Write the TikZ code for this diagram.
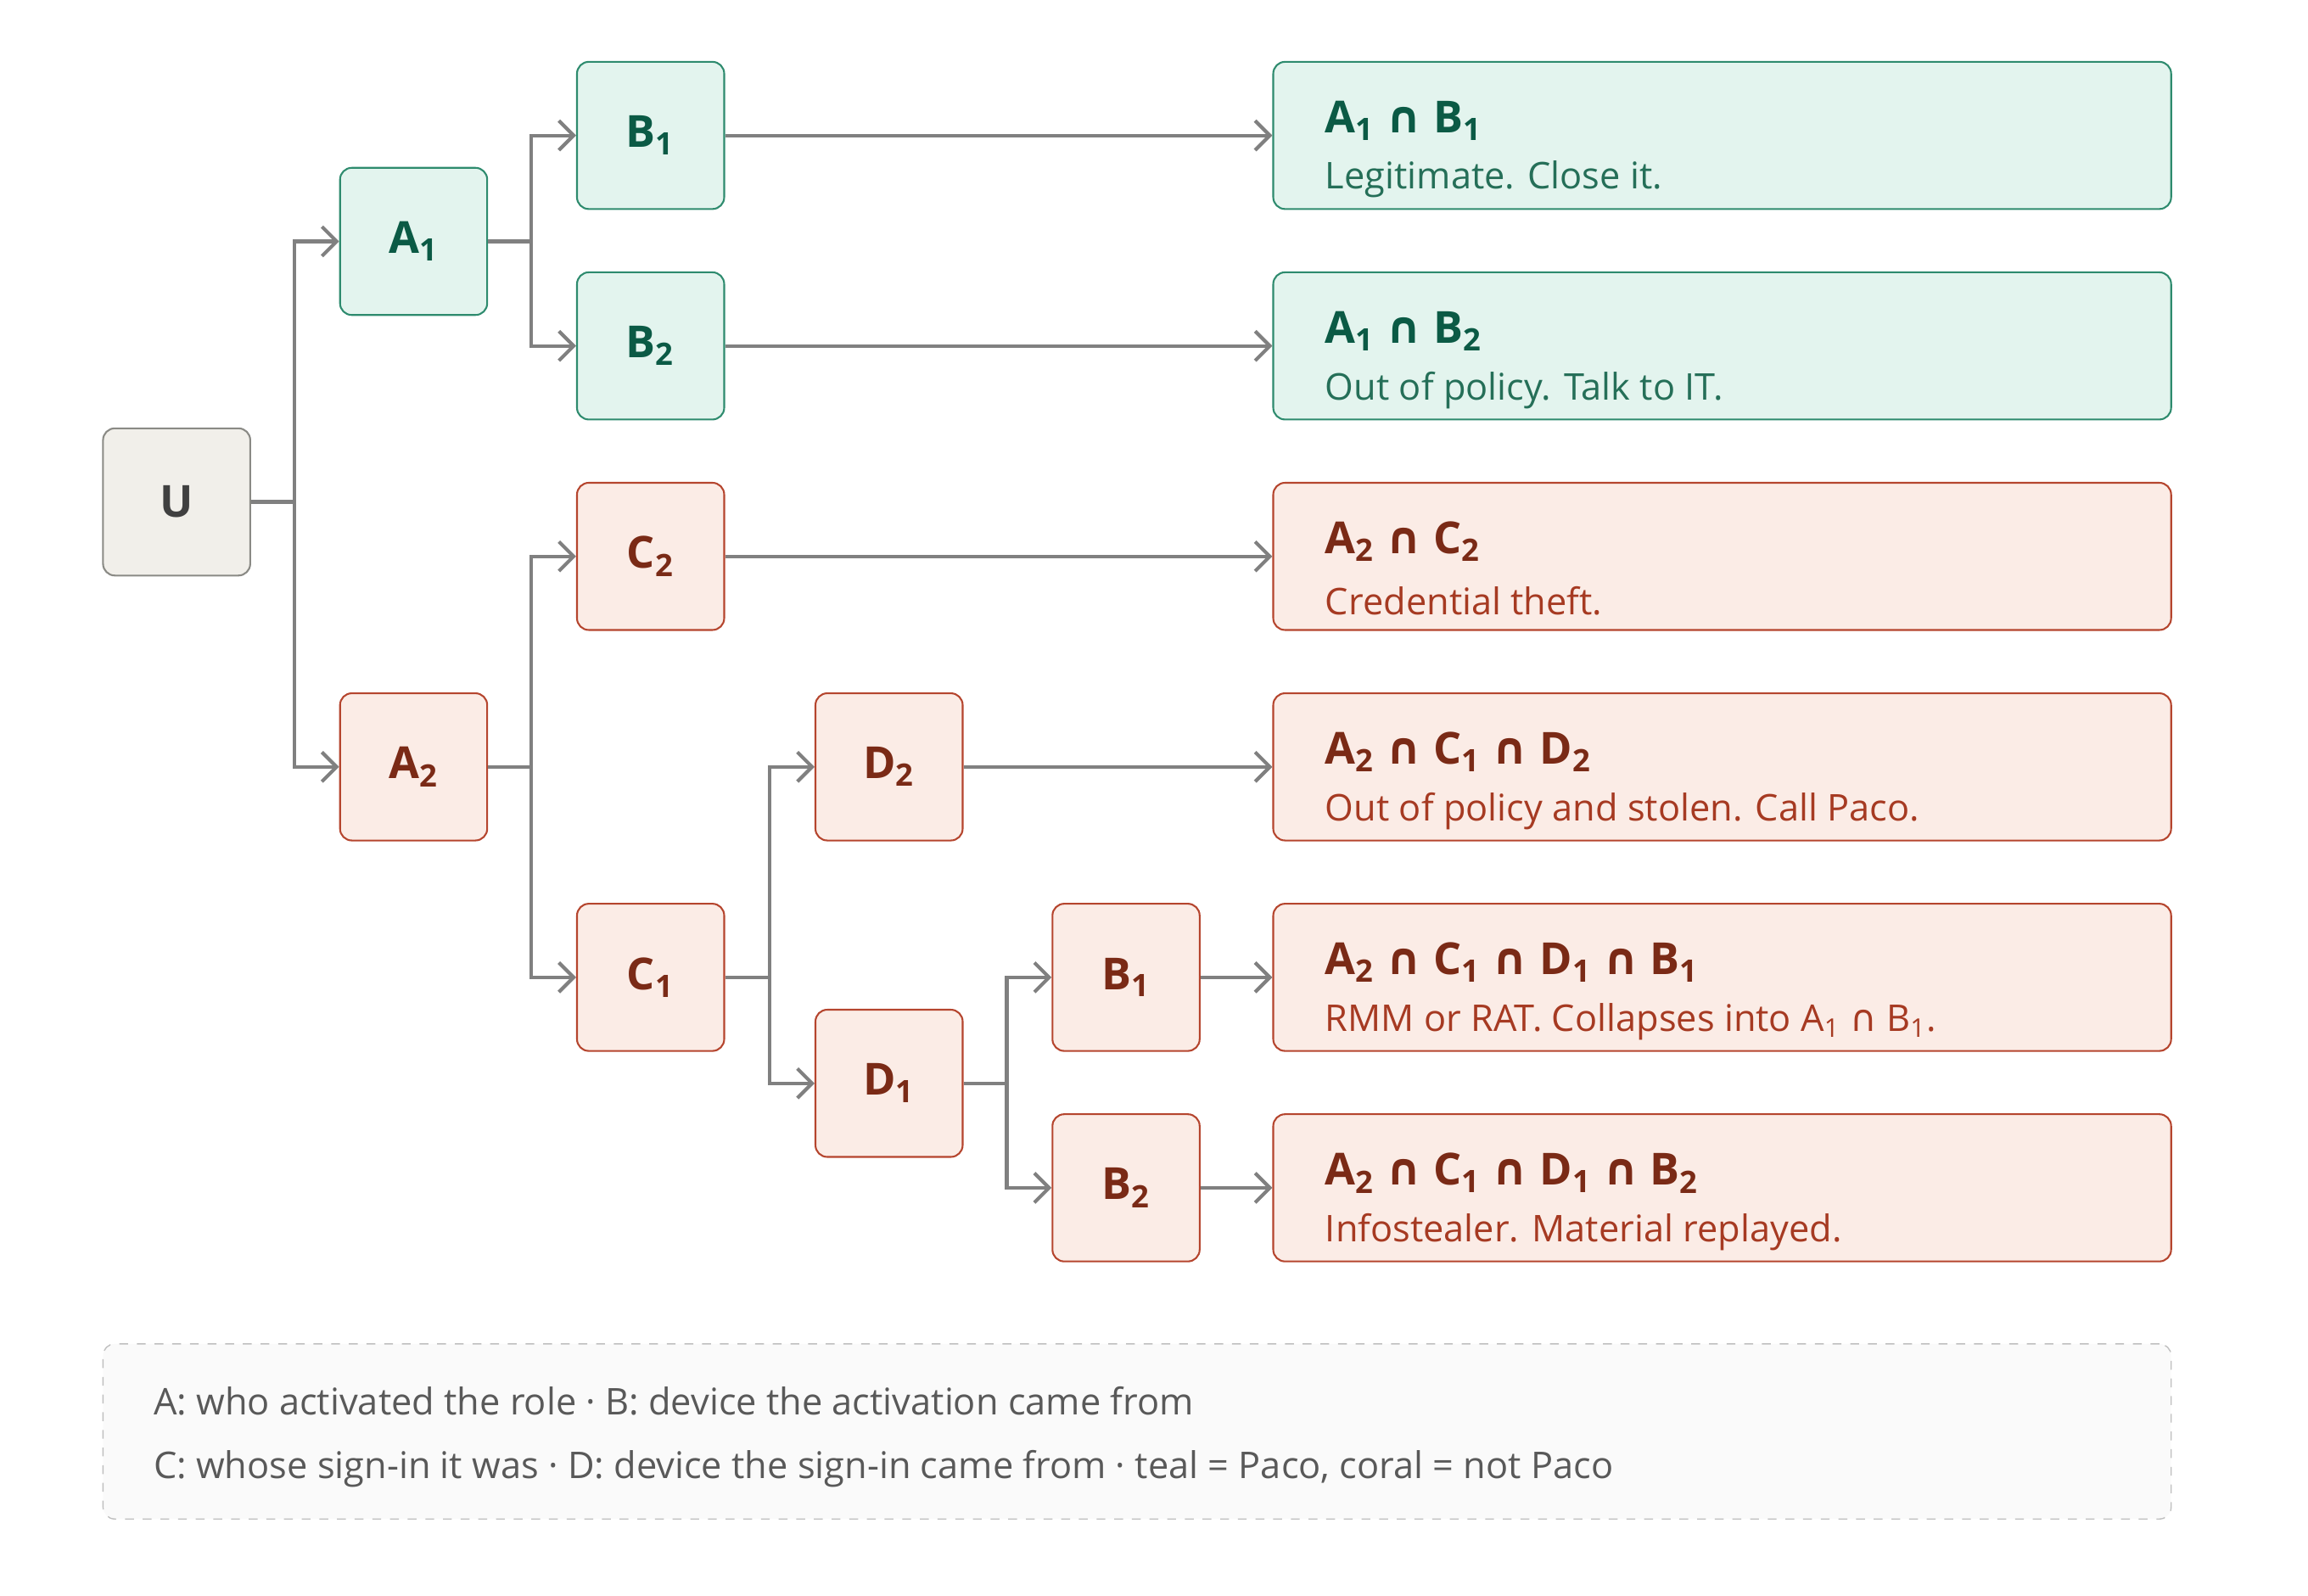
\documentclass[tikz,border=0pt]{standalone}
\usepackage{fontspec}
\setmainfont{Open Sans}
\newfontfamily\dv{DejaVu Sans}
\usetikzlibrary{arrows.meta,calc}
\newcommand\ncap{{\dv ∩}}
\newcommand\ssb[1]{\textsubscript{#1}}
\definecolor{tfill}{HTML}{E3F4EE}
\definecolor{tline}{HTML}{2E8B6E}
\definecolor{ttext}{HTML}{0B5A45}
\definecolor{cfill}{HTML}{FBECE6}
\definecolor{cline}{HTML}{B5452E}
\definecolor{ctext}{HTML}{7A2A16}
\definecolor{cdesc}{HTML}{A63A22}
\definecolor{ufill}{HTML}{F1EFEA}
\definecolor{uline}{HTML}{8A8A85}
\definecolor{arr}{HTML}{808080}
\begin{document}
\begin{tikzpicture}[x=0.5pt,y=-0.5pt,
  box/.style={draw,rounded corners=4pt,line width=0.6pt,minimum width=50pt,minimum height=50pt,inner sep=0pt,font=\fontsize{15}{18}\selectfont\bfseries},
  tb/.style={box,fill=tfill,draw=tline,text=ttext},
  cb/.style={box,fill=cfill,draw=cline,text=ctext},
  res/.style={draw,rounded corners=4pt,line width=0.6pt,minimum width=305pt,minimum height=50pt,inner sep=0pt},
  tr/.style={res,fill=tfill,draw=tline},
  cr/.style={res,fill=cfill,draw=cline},
  ttl/.style={anchor=west,inner sep=0pt,font=\fontsize{15}{18}\selectfont\bfseries},
  dsc/.style={anchor=west,inner sep=0pt,font=\fontsize{12.5}{15}\selectfont},
  ar/.style={draw=arr,line width=1.2pt,-{Straight Barb[length=5pt,width=10pt,line width=1.2pt]}},
  leg/.style={anchor=west,inner sep=0pt,text=black!65,font=\fontsize{12.5}{15}\selectfont}]
\useasboundingbox (0,0) rectangle (1568,1084);
\node[box,fill=ufill,draw=uline,text=black!75] (U) at (120,341) {U};
\node[tb] (A1) at (281,164) {A\ssb{1}};
\node[cb] (A2) at (281,521) {A\ssb{2}};
\node[tb] (B1) at (442,92) {B\ssb{1}};
\node[tb] (B2) at (442,235) {B\ssb{2}};
\node[cb] (C2) at (442,378) {C\ssb{2}};
\node[cb] (C1) at (442,664) {C\ssb{1}};
\node[cb] (D2) at (604,521) {D\ssb{2}};
\node[cb] (D1) at (604,736) {D\ssb{1}};
\node[cb] (E1) at (765,664) {B\ssb{1}};
\node[cb] (E2) at (765,807) {B\ssb{2}};
\node[tr] (R1) at (1170,92) {};
\node[tr] (R2) at (1170,235) {};
\node[cr] (R3) at (1170,378) {};
\node[cr] (R4) at (1170,521) {};
\node[cr] (R5) at (1170,664) {};
\node[cr] (R6) at (1170,807) {};
\node[ttl,text=ttext] (t1) at (900,82) {A\ssb{1} \ncap{} B\ssb{1}};
\node[dsc,text=tline!80!black] (d1) at (900,122) {Legitimate. Close it.};
\node[ttl,text=ttext] (t2) at (900,225) {A\ssb{1} \ncap{} B\ssb{2}};
\node[dsc,text=tline!80!black] (d2) at (900,265) {Out of policy. Talk to IT.};
\node[ttl,text=ctext] (t3) at (900,368) {A\ssb{2} \ncap{} C\ssb{2}};
\node[dsc,text=cdesc] (d3) at (900,408) {Credential theft.};
\node[ttl,text=ctext] (t4) at (900,511) {A\ssb{2} \ncap{} C\ssb{1} \ncap{} D\ssb{2}};
\node[dsc,text=cdesc] (d4) at (900,551) {Out of policy and stolen. Call Paco.};
\node[ttl,text=ctext] (t5) at (900,654) {A\ssb{2} \ncap{} C\ssb{1} \ncap{} D\ssb{1} \ncap{} B\ssb{1}};
\node[dsc,text=cdesc] (d5) at (900,694) {RMM or RAT. Collapses into A\ssb{1} \ncap{} B\ssb{1}.};
\node[ttl,text=ctext] (t6) at (900,797) {A\ssb{2} \ncap{} C\ssb{1} \ncap{} D\ssb{1} \ncap{} B\ssb{2}};
\node[dsc,text=cdesc] (d6) at (900,837) {Infostealer. Material replayed.};
\node[draw=black!25,dashed,fill=black!2,rounded corners=4pt,minimum width=702.5pt,minimum height=59.5pt] (L) at (772.5,972.5) {};
\node[leg] (l1) at (104,952) {A: who activated the role · B: device the activation came from};
\node[leg] (l2) at (104,998) {C: whose sign-in it was · D: device the sign-in came from · teal = Paco, coral = not Paco};
\coordinate (j0) at (200,341);
\coordinate (j1) at (361,164);
\coordinate (j2) at (361,521);
\coordinate (j3) at (523,664);
\coordinate (j4) at (684,736);
\draw[ar] (U.east) -- (j0) |- (A1.west);
\draw[ar] (j0) |- (A2.west);
\draw[ar] (A1.east) -- (j1) |- (B1.west);
\draw[ar] (j1) |- (B2.west);
\draw[ar] (A2.east) -- (j2) |- (C2.west);
\draw[ar] (j2) |- (C1.west);
\draw[ar] (C1.east) -- (j3) |- (D2.west);
\draw[ar] (j3) |- (D1.west);
\draw[ar] (D1.east) -- (j4) |- (E1.west);
\draw[ar] (j4) |- (E2.west);
\draw[ar] (B1.east) -- (R1.west);
\draw[ar] (B2.east) -- (R2.west);
\draw[ar] (C2.east) -- (R3.west);
\draw[ar] (D2.east) -- (R4.west);
\draw[ar] (E1.east) -- (R5.west);
\draw[ar] (E2.east) -- (R6.west);
\end{tikzpicture}
\end{document}
